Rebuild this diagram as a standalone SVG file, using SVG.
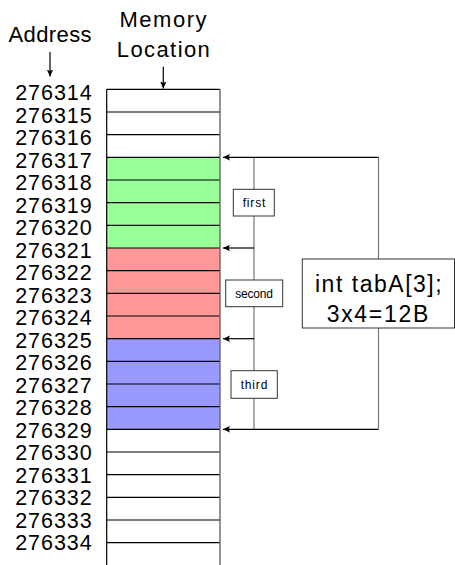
<svg xmlns="http://www.w3.org/2000/svg" width="455" height="565" viewBox="0 0 455 565">
<defs>
<marker id="ah" markerWidth="8" markerHeight="8" refX="7" refY="4" orient="auto" markerUnits="userSpaceOnUse">
<path d="M0,0.8 L7,4 L0,7.2 L1.5,4 Z" fill="#000"/>
</marker>
</defs>
<style>
.t{font-family:"Liberation Sans",Arial,sans-serif;fill:#000}
.addr{font-size:21.5px;text-anchor:end}
.hdr{font-size:22px;text-anchor:middle}
.lbl{font-size:12px;text-anchor:middle}
.big{font-size:23px;text-anchor:middle}
.row{stroke:#000;stroke-width:1.2}
.g{fill:#99ff99}.r{fill:#ff9999}.b{fill:#9999ff}
.conn{stroke:#777;stroke-width:1.2;fill:none}
.arr{stroke:#000;stroke-width:1.2;fill:none;marker-end:url(#ah)}
.box{fill:#fff;stroke:#333;stroke-width:1}
</style>
<g id="headers">
<text class="t hdr" x="50" y="42.3" textLength="83">Address</text>
<text class="t hdr" x="163" y="26.7" textLength="87">Memory</text>
<text class="t hdr" x="163.3" y="57.3" textLength="93">Location</text>
</g>
<g id="memory">
<rect class="g" x="106.7" y="157.3" width="113.3" height="90.7"/>
<rect class="r" x="106.7" y="248" width="113.3" height="90.7"/>
<rect class="b" x="106.7" y="338.7" width="113.3" height="90.7"/>
<g class="row">
<line x1="106.7" y1="89.3" x2="220" y2="89.3"/>
<line x1="106.7" y1="112" x2="220" y2="112"/>
<line x1="106.7" y1="134.7" x2="220" y2="134.7"/>
<line x1="106.7" y1="157.3" x2="220" y2="157.3"/>
<line x1="106.7" y1="180" x2="220" y2="180"/>
<line x1="106.7" y1="202.7" x2="220" y2="202.7"/>
<line x1="106.7" y1="225.3" x2="220" y2="225.3"/>
<line x1="106.7" y1="248" x2="220" y2="248"/>
<line x1="106.7" y1="270.7" x2="220" y2="270.7"/>
<line x1="106.7" y1="293.3" x2="220" y2="293.3"/>
<line x1="106.7" y1="316" x2="220" y2="316"/>
<line x1="106.7" y1="338.7" x2="220" y2="338.7"/>
<line x1="106.7" y1="361.3" x2="220" y2="361.3"/>
<line x1="106.7" y1="384" x2="220" y2="384"/>
<line x1="106.7" y1="406.7" x2="220" y2="406.7"/>
<line x1="106.7" y1="429.3" x2="220" y2="429.3"/>
<line x1="106.7" y1="452" x2="220" y2="452"/>
<line x1="106.7" y1="474.7" x2="220" y2="474.7"/>
<line x1="106.7" y1="497.3" x2="220" y2="497.3"/>
<line x1="106.7" y1="520" x2="220" y2="520"/>
<line x1="106.7" y1="542.7" x2="220" y2="542.7"/>
<line x1="106.7" y1="89.3" x2="106.7" y2="565"/>
</g>
<line x1="220" y1="89.3" x2="220" y2="565" stroke="#666" stroke-width="1.4"/>
</g>
<g id="addresses" class="t addr">
<text x="91.7" y="100" textLength="76.5">276314</text>
<text x="91.7" y="122.5" textLength="76.5">276315</text>
<text x="91.7" y="145" textLength="76.5">276316</text>
<text x="91.7" y="167.5" textLength="76.5">276317</text>
<text x="91.7" y="190" textLength="76.5">276318</text>
<text x="91.7" y="212.5" textLength="76.5">276319</text>
<text x="91.7" y="235" textLength="76.5">276320</text>
<text x="91.7" y="257.5" textLength="76.5">276321</text>
<text x="91.7" y="280" textLength="76.5">276322</text>
<text x="91.7" y="302.5" textLength="76.5">276323</text>
<text x="91.7" y="325" textLength="76.5">276324</text>
<text x="91.7" y="347.5" textLength="76.5">276325</text>
<text x="91.7" y="370" textLength="76.5">276326</text>
<text x="91.7" y="392.5" textLength="76.5">276327</text>
<text x="91.7" y="415" textLength="76.5">276328</text>
<text x="91.7" y="437.5" textLength="76.5">276329</text>
<text x="91.7" y="460" textLength="76.5">276330</text>
<text x="91.7" y="482.5" textLength="76.5">276331</text>
<text x="91.7" y="505" textLength="76.5">276332</text>
<text x="91.7" y="527.5" textLength="76.5">276333</text>
<text x="91.7" y="550" textLength="76.5">276334</text>
</g>
<g id="connectors">
<line class="arr" x1="50" y1="52" x2="50" y2="76.5"/>
<line class="arr" x1="163.3" y1="66.7" x2="163.3" y2="88.5"/>
<line class="conn" x1="254" y1="157.3" x2="254" y2="429.3"/>
<line class="conn" x1="378.5" y1="157.3" x2="378.5" y2="259"/>
<line class="conn" x1="378.5" y1="328" x2="378.5" y2="429.3"/>
<line class="arr" x1="378.5" y1="157.3" x2="223" y2="157.3"/>
<line class="arr" x1="254" y1="248" x2="223" y2="248"/>
<line class="arr" x1="254" y1="338.7" x2="223" y2="338.7"/>
<line class="arr" x1="378.5" y1="429.3" x2="223" y2="429.3"/>
</g>
<g id="first">
<rect class="box" x="233.3" y="189.3" width="41" height="26.7"/>
<text class="t lbl" x="254" y="207" textLength="22.7">first</text>
</g>
<g id="second">
<rect class="box" x="225.7" y="280" width="57" height="26.7"/>
<text class="t lbl" x="254" y="297.8" textLength="37.7">second</text>
</g>
<g id="third">
<rect class="box" x="231" y="370.7" width="46.3" height="27.6"/>
<text class="t lbl" x="254" y="388.5" textLength="26.7">third</text>
</g>
<g id="array">
<rect class="box" x="302.3" y="259" width="152.2" height="69"/>
<text class="t big" x="378.3" y="291.7" textLength="126.7">int tabA[3];</text>
<text class="t big" x="377.5" y="321.7" textLength="101.6">3x4=12B</text>
</g>
</svg>
